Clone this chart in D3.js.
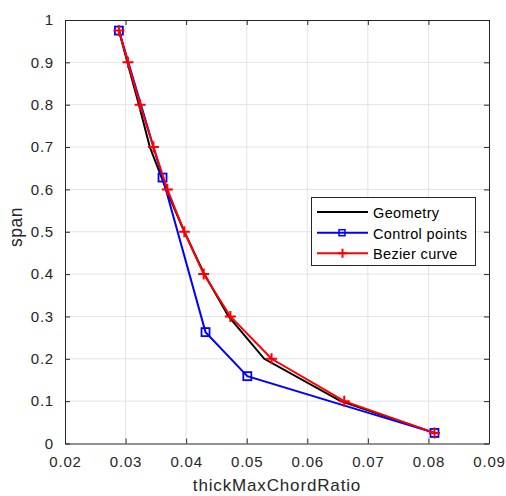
<!DOCTYPE html>
<html><head><meta charset="utf-8">
<script src="https://cdn.jsdelivr.net/npm/d3@7"></script>
<style>body{margin:0;background:#fff}svg{display:block}text{font-family:"Liberation Sans",Arial,sans-serif}</style>
</head><body>
<script>
const xTicks = [0.02,0.03,0.04,0.05,0.06,0.07,0.08,0.09];
const yTicks = [0,0.1,0.2,0.3,0.4,0.5,0.6,0.7,0.8,0.9,1];
const geomX = [0.0289,0.0303,0.0322,0.0340,0.0367,0.0397,0.0430,0.0470,0.0529,0.0655,0.0810];
const geomY = [0.975,0.9,0.8,0.7,0.6,0.5,0.4,0.3,0.2,0.1,0.025];
const ctrlX = [0.0289,0.0361,0.0432,0.0501,0.0810];
const ctrlY = [0.975,0.628,0.263,0.159,0.025];
const bezX = [0.0289,0.0304,0.0324,0.0346,0.0369,0.0397,0.0429,0.0473,0.0541,0.0661,0.0810];
const bezY = [0.975,0.9,0.8,0.7,0.6,0.5,0.4,0.3,0.2,0.1,0.025];
const legendLabels = ["Geometry","Control points","Bezier curve"];

const W=506,H=496, L=65,R=489,T=20,B=443.5;
const svg=d3.select("body").append("svg").attr("width",W).attr("height",H);
const x=d3.scaleLinear().domain([0.02,0.09]).range([L,R]);
const y=d3.scaleLinear().domain([0,1]).range([B,T]);
const ax="#262626";
// grid
svg.append("g").selectAll("line").data(xTicks.slice(1,-1)).join("line")
 .attr("x1",d=>x(d)).attr("x2",d=>x(d)).attr("y1",T).attr("y2",B).attr("stroke","#e3e3e3");
svg.append("g").selectAll("line").data(yTicks.slice(1,-1)).join("line")
 .attr("y1",d=>y(d)).attr("y2",d=>y(d)).attr("x1",L).attr("x2",R).attr("stroke","#e3e3e3");
// axes
function styleAxis(g){g.select(".domain").attr("stroke",ax);g.selectAll(".tick line").attr("stroke",ax);g.selectAll("text").attr("fill",ax).style("font-size","15px").style("letter-spacing","0.8px");}
svg.append("g").attr("transform",`translate(0,${B})`).call(d3.axisBottom(x).tickValues(xTicks).tickSize(-5).tickPadding(13).tickSizeOuter(0).tickFormat(d3.format(".2f"))).call(styleAxis);
svg.append("g").attr("transform",`translate(${L},0)`).call(d3.axisLeft(y).tickValues(yTicks).tickSize(-5).tickPadding(11).tickSizeOuter(0).tickFormat(d=>d===0?"0":d===1?"1":d3.format(".1f")(d))).call(styleAxis);
svg.append("g").attr("transform",`translate(0,${T})`).call(d3.axisTop(x).tickValues(xTicks).tickSize(-5).tickSizeOuter(0).tickFormat("")).call(styleAxis);
svg.append("g").attr("transform",`translate(${R},0)`).call(d3.axisRight(y).tickValues(yTicks).tickSize(-5).tickSizeOuter(0).tickFormat("")).call(styleAxis);
svg.append("text").attr("x",277).attr("y",491).attr("text-anchor","middle").attr("fill",ax).style("font-size","17px").style("letter-spacing","0.85px").text("thickMaxChordRatio");
svg.append("text").attr("transform",`translate(21.5,227) rotate(-90)`).attr("text-anchor","middle").attr("fill",ax).style("font-size","17.5px").style("letter-spacing","0.5px").text("span");

const line=d3.line().x(d=>x(d[0])).y(d=>y(d[1]));
const geom=d3.zip(geomX,geomY), ctrl=d3.zip(ctrlX,ctrlY), bez=d3.zip(bezX,bezY);
svg.append("path").attr("d",line(geom)).attr("fill","none").attr("stroke","#000").attr("stroke-width",2);
svg.append("path").attr("d",line(ctrl)).attr("fill","none").attr("stroke","#0000ff").attr("stroke-width",2);
svg.append("g").selectAll("rect").data(ctrl).join("rect").attr("x",d=>x(d[0])-4).attr("y",d=>y(d[1])-4).attr("width",8).attr("height",8).attr("fill","none").attr("stroke","#0000ff").attr("stroke-width",1.8);
svg.append("path").attr("d",line(bez)).attr("fill","none").attr("stroke","#ff0000").attr("stroke-width",2);
const plus=(g,cx,cy,s)=>g.append("path").attr("d",`M${cx-s},${cy}H${cx+s}M${cx},${cy-s}V${cy+s}`).attr("stroke","#ff0000").attr("stroke-width",2).attr("fill","none");
const pg=svg.append("g");
bez.forEach(d=>plus(pg,x(d[0]),y(d[1]),5.5));

// legend
const lg=svg.append("g");
lg.append("rect").attr("x",311.5).attr("y",197.5).attr("width",164).attr("height",68).attr("fill","#fff").attr("stroke",ax).attr("stroke-width",1);
const cols=["#000","#0000ff","#ff0000"];
const rowY=[212,232.7,253.3];
legendLabels.forEach((t,i)=>{
 const yy=rowY[i];
 lg.append("line").attr("x1",317).attr("x2",368).attr("y1",yy).attr("y2",yy).attr("stroke",cols[i]).attr("stroke-width",2);
 if(i===1) lg.append("rect").attr("x",339).attr("y",yy-3).attr("width",6).attr("height",6).attr("fill","none").attr("stroke","#0000ff").attr("stroke-width",1.5);
 if(i===2) plus(lg,342.5,yy,4.5);
 lg.append("text").attr("x",373).attr("y",yy+6).attr("fill","#000").style("font-size","14.5px").style("letter-spacing","0.35px").text(t);
});
</script>
</body></html>
